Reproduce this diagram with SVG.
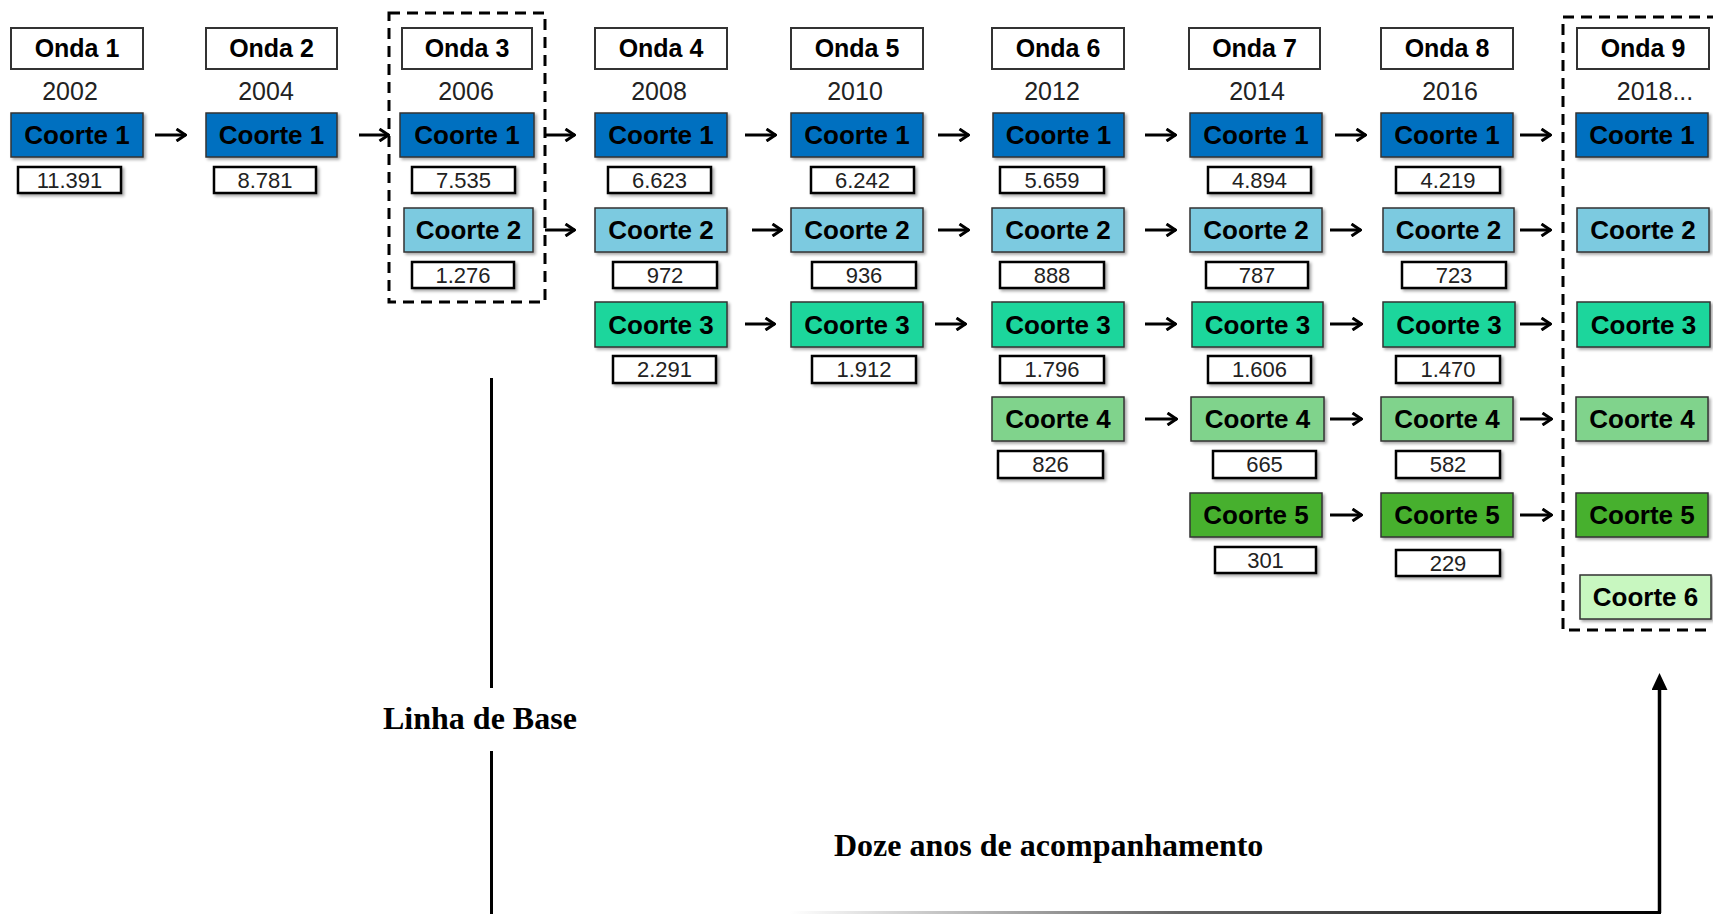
<svg xmlns="http://www.w3.org/2000/svg" width="1713" height="914" viewBox="0 0 1713 914">
<defs>
<filter id="sh" x="-10%" y="-10%" width="130%" height="140%">
<feDropShadow dx="2" dy="2" stdDeviation="1.5" flood-color="#000" flood-opacity="0.35"/>
</filter>
<marker id="ah" viewBox="0 0 12 14" refX="11" refY="7" markerWidth="12" markerHeight="14" markerUnits="userSpaceOnUse" orient="auto">
<path d="M1.5,1 L10.5,7 L1.5,13" fill="none" stroke="#000" stroke-width="3"/>
</marker>
<marker id="bigah" viewBox="0 0 17 16" refX="1" refY="8" markerWidth="17" markerHeight="16" markerUnits="userSpaceOnUse" orient="auto">
<path d="M0,0 L17,8 L0,16 Z" fill="#000"/>
</marker>
<linearGradient id="fade" x1="0" y1="0" x2="1" y2="0">
<stop offset="0" stop-color="#ffffff"/>
<stop offset="0.45" stop-color="#666"/>
<stop offset="1" stop-color="#000"/>
</linearGradient>
</defs>
<style>
.onda{fill:#fff;stroke:#333;stroke-width:2;}
.ot{font-family:"Liberation Sans",Arial,sans-serif;font-weight:bold;font-size:25px;fill:#000;text-anchor:middle;}
.yr{font-family:"Liberation Sans",Arial,sans-serif;font-size:25px;fill:#222;text-anchor:middle;}
.c{stroke:#333;stroke-width:1.5;filter:url(#sh);}
.c1{fill:#0070C0;}
.c2{fill:#7BCAE0;}
.c3{fill:#1FD69C;}
.c4{fill:#80D38C;}
.c5{fill:#47B02E;}
.c6{fill:#C8F7C0;}
.ct{font-family:"Liberation Sans",Arial,sans-serif;font-weight:bold;font-size:26px;fill:#000;text-anchor:middle;}
.n{fill:#fff;stroke:#000;stroke-width:2.5;filter:url(#sh);}
.nt{font-family:"Liberation Sans",Arial,sans-serif;font-size:22px;fill:#222;text-anchor:middle;}
.dash{fill:none;stroke:#000;stroke-width:3;stroke-dasharray:11 7;}
.arr{stroke:#000;stroke-width:3;fill:none;marker-end:url(#ah);}
.lbl{font-family:"Liberation Serif","Times New Roman",serif;font-weight:bold;font-size:32px;fill:#000;}
.tl{stroke:#000;stroke-width:3;fill:none;}
</style>

<g id="baseline-box"><rect class="dash" x="389" y="13" width="156" height="289"/></g>
<g id="wave9-box"><rect class="dash" x="1563" y="17" width="170" height="613"/></g>

<g id="onda1">
<rect class="onda" x="11" y="28" width="132" height="41"/><text class="ot" x="77" y="57">Onda 1</text>
<text class="yr" x="70" y="100">2002</text>
</g>
<g id="onda2">
<rect class="onda" x="206" y="28" width="131" height="41"/><text class="ot" x="271.5" y="57">Onda 2</text>
<text class="yr" x="266" y="100">2004</text>
</g>
<g id="onda3">
<rect class="onda" x="402" y="28" width="130" height="41"/><text class="ot" x="467" y="57">Onda 3</text>
<text class="yr" x="466" y="100">2006</text>
</g>
<g id="onda4">
<rect class="onda" x="595" y="28" width="132" height="41"/><text class="ot" x="661" y="57">Onda 4</text>
<text class="yr" x="659" y="100">2008</text>
</g>
<g id="onda5">
<rect class="onda" x="791" y="28" width="132" height="41"/><text class="ot" x="857" y="57">Onda 5</text>
<text class="yr" x="855" y="100">2010</text>
</g>
<g id="onda6">
<rect class="onda" x="992" y="28" width="132" height="41"/><text class="ot" x="1058" y="57">Onda 6</text>
<text class="yr" x="1052" y="100">2012</text>
</g>
<g id="onda7">
<rect class="onda" x="1189" y="28" width="131" height="41"/><text class="ot" x="1254.5" y="57">Onda 7</text>
<text class="yr" x="1257" y="100">2014</text>
</g>
<g id="onda8">
<rect class="onda" x="1381" y="28" width="132" height="41"/><text class="ot" x="1447" y="57">Onda 8</text>
<text class="yr" x="1450" y="100">2016</text>
</g>
<g id="onda9">
<rect class="onda" x="1577" y="28" width="132" height="41"/><text class="ot" x="1643" y="57">Onda 9</text>
<text class="yr" x="1655" y="100">2018...</text>
</g>

<!-- Wave 1 -->
<g id="w1c1"><rect class="c c1" x="11" y="113" width="132" height="44"/><text class="ct" x="77" y="144">Coorte 1</text>
<rect class="n" x="18" y="167" width="103" height="26"/><text class="nt" x="69.5" y="188">11.391</text></g>
<!-- Wave 2 -->
<g id="w2c1"><rect class="c c1" x="206" y="113" width="131" height="44"/><text class="ct" x="271.5" y="144">Coorte 1</text>
<rect class="n" x="214" y="167" width="102" height="26"/><text class="nt" x="265" y="188">8.781</text></g>
<!-- Wave 3 -->
<g id="w3c1"><rect class="c c1" x="400" y="113" width="134" height="44"/><text class="ct" x="467" y="144">Coorte 1</text>
<rect class="n" x="412" y="167" width="103" height="26"/><text class="nt" x="463.5" y="188">7.535</text></g>
<g id="w3c2"><rect class="c c2" x="404" y="208" width="129" height="44"/><text class="ct" x="468.5" y="239">Coorte 2</text>
<rect class="n" x="412" y="262" width="102" height="26"/><text class="nt" x="463" y="283">1.276</text></g>
<!-- Wave 4 -->
<g id="w4c1"><rect class="c c1" x="595" y="113" width="132" height="44"/><text class="ct" x="661" y="144">Coorte 1</text>
<rect class="n" x="608" y="167" width="103" height="26"/><text class="nt" x="659.5" y="188">6.623</text></g>
<g id="w4c2"><rect class="c c2" x="595" y="208" width="132" height="44"/><text class="ct" x="661" y="239">Coorte 2</text>
<rect class="n" x="613" y="262" width="104" height="26"/><text class="nt" x="665" y="283">972</text></g>
<g id="w4c3"><rect class="c c3" x="595" y="302" width="132" height="45"/><text class="ct" x="661" y="334">Coorte 3</text>
<rect class="n" x="613" y="356" width="103" height="27"/><text class="nt" x="664.5" y="377">2.291</text></g>
<!-- Wave 5 -->
<g id="w5c1"><rect class="c c1" x="791" y="113" width="132" height="44"/><text class="ct" x="857" y="144">Coorte 1</text>
<rect class="n" x="811" y="167" width="103" height="26"/><text class="nt" x="862.5" y="188">6.242</text></g>
<g id="w5c2"><rect class="c c2" x="791" y="208" width="132" height="44"/><text class="ct" x="857" y="239">Coorte 2</text>
<rect class="n" x="812" y="262" width="104" height="26"/><text class="nt" x="864" y="283">936</text></g>
<g id="w5c3"><rect class="c c3" x="791" y="302" width="132" height="45"/><text class="ct" x="857" y="334">Coorte 3</text>
<rect class="n" x="812" y="356" width="104" height="27"/><text class="nt" x="864" y="377">1.912</text></g>
<!-- Wave 6 -->
<g id="w6c1"><rect class="c c1" x="993" y="113" width="131" height="44"/><text class="ct" x="1058.5" y="144">Coorte 1</text>
<rect class="n" x="1000" y="167" width="104" height="26"/><text class="nt" x="1052" y="188">5.659</text></g>
<g id="w6c2"><rect class="c c2" x="992" y="208" width="132" height="44"/><text class="ct" x="1058" y="239">Coorte 2</text>
<rect class="n" x="1000" y="262" width="104" height="26"/><text class="nt" x="1052" y="283">888</text></g>
<g id="w6c3"><rect class="c c3" x="992" y="302" width="132" height="45"/><text class="ct" x="1058" y="334">Coorte 3</text>
<rect class="n" x="1000" y="356" width="104" height="27"/><text class="nt" x="1052" y="377">1.796</text></g>
<g id="w6c4"><rect class="c c4" x="992" y="397" width="132" height="44"/><text class="ct" x="1058" y="428">Coorte 4</text>
<rect class="n" x="998" y="451" width="105" height="27"/><text class="nt" x="1050.5" y="472">826</text></g>
<!-- Wave 7 -->
<g id="w7c1"><rect class="c c1" x="1190" y="113" width="132" height="44"/><text class="ct" x="1256" y="144">Coorte 1</text>
<rect class="n" x="1208" y="167" width="103" height="26"/><text class="nt" x="1259.5" y="188">4.894</text></g>
<g id="w7c2"><rect class="c c2" x="1190" y="208" width="132" height="44"/><text class="ct" x="1256" y="239">Coorte 2</text>
<rect class="n" x="1206" y="262" width="102" height="26"/><text class="nt" x="1257" y="283">787</text></g>
<g id="w7c3"><rect class="c c3" x="1192" y="302" width="131" height="45"/><text class="ct" x="1257.5" y="334">Coorte 3</text>
<rect class="n" x="1208" y="356" width="103" height="27"/><text class="nt" x="1259.5" y="377">1.606</text></g>
<g id="w7c4"><rect class="c c4" x="1191" y="397" width="133" height="44"/><text class="ct" x="1257.5" y="428">Coorte 4</text>
<rect class="n" x="1213" y="451" width="103" height="27"/><text class="nt" x="1264.5" y="472">665</text></g>
<g id="w7c5"><rect class="c c5" x="1190" y="493" width="132" height="44"/><text class="ct" x="1256" y="524">Coorte 5</text>
<rect class="n" x="1215" y="547" width="101" height="26"/><text class="nt" x="1265.5" y="568">301</text></g>
<!-- Wave 8 -->
<g id="w8c1"><rect class="c c1" x="1381" y="113" width="132" height="44"/><text class="ct" x="1447" y="144">Coorte 1</text>
<rect class="n" x="1396" y="167" width="104" height="26"/><text class="nt" x="1448" y="188">4.219</text></g>
<g id="w8c2"><rect class="c c2" x="1383" y="208" width="131" height="44"/><text class="ct" x="1448.5" y="239">Coorte 2</text>
<rect class="n" x="1402" y="262" width="104" height="26"/><text class="nt" x="1454" y="283">723</text></g>
<g id="w8c3"><rect class="c c3" x="1383" y="302" width="132" height="45"/><text class="ct" x="1449" y="334">Coorte 3</text>
<rect class="n" x="1396" y="356" width="104" height="27"/><text class="nt" x="1448" y="377">1.470</text></g>
<g id="w8c4"><rect class="c c4" x="1381" y="397" width="132" height="44"/><text class="ct" x="1447" y="428">Coorte 4</text>
<rect class="n" x="1396" y="451" width="104" height="27"/><text class="nt" x="1448" y="472">582</text></g>
<g id="w8c5"><rect class="c c5" x="1381" y="493" width="132" height="44"/><text class="ct" x="1447" y="524">Coorte 5</text>
<rect class="n" x="1396" y="550" width="104" height="26"/><text class="nt" x="1448" y="571">229</text></g>
<!-- Wave 9 -->
<g id="w9c1"><rect class="c c1" x="1576" y="113" width="132" height="44"/><text class="ct" x="1642" y="144">Coorte 1</text></g>
<g id="w9c2"><rect class="c c2" x="1577" y="208" width="132" height="44"/><text class="ct" x="1643" y="239">Coorte 2</text></g>
<g id="w9c3"><rect class="c c3" x="1577" y="302" width="133" height="45"/><text class="ct" x="1643.5" y="334">Coorte 3</text></g>
<g id="w9c4"><rect class="c c4" x="1576" y="397" width="132" height="44"/><text class="ct" x="1642" y="428">Coorte 4</text></g>
<g id="w9c5"><rect class="c c5" x="1576" y="493" width="132" height="44"/><text class="ct" x="1642" y="524">Coorte 5</text></g>
<g id="w9c6"><rect class="c c6" x="1580" y="575" width="131" height="44"/><text class="ct" x="1645.5" y="606">Coorte 6</text></g>

<g id="connectors">
<line class="arr" x1="155" y1="135" x2="186" y2="135"/>
<line class="arr" x1="359" y1="135" x2="389" y2="135"/>
<line class="arr" x1="545" y1="135" x2="575" y2="135"/>
<line class="arr" x1="745" y1="135" x2="776" y2="135"/>
<line class="arr" x1="938" y1="135" x2="969" y2="135"/>
<line class="arr" x1="1145" y1="135" x2="1176" y2="135"/>
<line class="arr" x1="1335" y1="135" x2="1366" y2="135"/>
<line class="arr" x1="1520" y1="135" x2="1551" y2="135"/>

<line class="arr" x1="545" y1="230" x2="575" y2="230"/>
<line class="arr" x1="752" y1="230" x2="782" y2="230"/>
<line class="arr" x1="938" y1="230" x2="969" y2="230"/>
<line class="arr" x1="1145" y1="230" x2="1176" y2="230"/>
<line class="arr" x1="1330" y1="230" x2="1361" y2="230"/>
<line class="arr" x1="1520" y1="230" x2="1551" y2="230"/>

<line class="arr" x1="745" y1="324" x2="775" y2="324"/>
<line class="arr" x1="935" y1="324" x2="966" y2="324"/>
<line class="arr" x1="1145" y1="324" x2="1176" y2="324"/>
<line class="arr" x1="1330" y1="324" x2="1362" y2="324"/>
<line class="arr" x1="1520" y1="324" x2="1551" y2="324"/>

<line class="arr" x1="1145" y1="419" x2="1177" y2="419"/>
<line class="arr" x1="1330" y1="419" x2="1362" y2="419"/>
<line class="arr" x1="1520" y1="419" x2="1552" y2="419"/>

<line class="arr" x1="1330" y1="515" x2="1362" y2="515"/>
<line class="arr" x1="1520" y1="515" x2="1552" y2="515"/>

<line class="tl" x1="491.5" y1="378" x2="491.5" y2="688"/>
<line class="tl" x1="491.5" y1="751" x2="491.5" y2="914"/>
<rect x="790" y="911" width="871" height="3" fill="url(#fade)"/>
<line x1="1659.5" y1="913" x2="1659.5" y2="689" stroke="#000" stroke-width="3.5" marker-end="url(#bigah)"/>
</g>

<g id="labels">
<text class="lbl" x="383" y="729">Linha de Base</text>
<text class="lbl" x="834" y="856">Doze anos de acompanhamento</text>
</g>
</svg>
